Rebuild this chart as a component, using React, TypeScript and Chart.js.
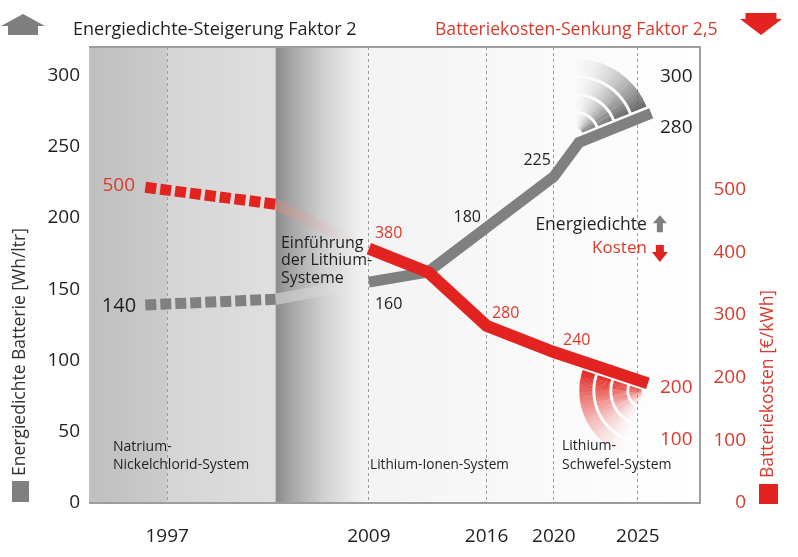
import React, { useEffect, useRef } from 'react';
import { Chart, registerables } from 'chart.js';

Chart.register(...registerables);

const FONT = '"Open Sans", "Noto Sans", "DejaVu Sans", sans-serif';
const DARK = '#1f1f1f';
const RED_TEXT = '#d83b2c';
const RED_LINE = '#e3231f';
const GRAY_LINE = '#808080';

// ---- axes ----
const yearTicks = [1997, 2009, 2016, 2020, 2025];
const energyTicks = [0, 50, 100, 150, 200, 250, 300];
const costTicks = [0, 100, 200, 300, 400, 500];
const yearRange = [1992.35, 2028.7];
const energyRange = [0, 320];
const costRange = [0, 728];

// ---- Natrium-Nickelchlorid (dashed) ----
const natriumYears = [1995.7, 2003.45];
const natriumEnergy = [139, 143];
const natriumCost = [504, 477];

// ---- transition (faded) ----
const bridgeYears = [2003.45, 2009];
const bridgeEnergy = [143, 155];
const bridgeCost = [477, 406];

// ---- Lithium (solid) ----
const lithiumEnergyYears = [2009, 2012.5, 2020, 2021.5, 2025.8];
const lithiumEnergy = [155, 162, 229, 253, 273.5];
const lithiumCostYears = [2009, 2012.55, 2016, 2020, 2025.6];
const lithiumCost = [406, 368, 283, 241, 191];

// ---- shading boundaries (years) ----
const shadeYears = [1997, 2003.45, 2009];

// ---- value labels ----
type Lbl = { t: string; yr: number; v: number; ax: 'e' | 'c'; c: string; a: CanvasTextAlign; s: number };
const valueLabels: Lbl[] = [
  { t: '140', yr: 1995.15, v: 138.2, ax: 'e', c: DARK, a: 'right', s: 20 },
  { t: '500', yr: 1995.09, v: 506, ax: 'c', c: RED_TEXT, a: 'right', s: 19 },
  { t: '380', yr: 2009.36, v: 431, ax: 'c', c: RED_TEXT, a: 'left', s: 16 },
  { t: '160', yr: 2009.36, v: 139, ax: 'e', c: DARK, a: 'left', s: 16 },
  { t: '180', yr: 2015.67, v: 200.7, ax: 'e', c: DARK, a: 'right', s: 16 },
  { t: '225', yr: 2019.83, v: 240.7, ax: 'e', c: DARK, a: 'right', s: 16 },
  { t: '280', yr: 2016.32, v: 303.3, ax: 'c', c: RED_TEXT, a: 'left', s: 16 },
  { t: '240', yr: 2020.55, v: 260.2, ax: 'c', c: RED_TEXT, a: 'left', s: 16 },
  { t: '300', yr: 2026.32, v: 299, ax: 'e', c: DARK, a: 'left', s: 19 },
  { t: '280', yr: 2026.32, v: 263.2, ax: 'e', c: DARK, a: 'left', s: 19 },
  { t: '200', yr: 2026.32, v: 183.6, ax: 'c', c: RED_TEXT, a: 'left', s: 19 },
  { t: '100', yr: 2026.32, v: 100.6, ax: 'c', c: RED_TEXT, a: 'left', s: 19 },
];

type Note = { lines: string[]; yr: number; v: number; c: string; a: CanvasTextAlign; s: number; lh: number };
const notes: Note[] = [
  { lines: ['Einführung', 'der Lithium-', 'Systeme'], yr: 2003.77, v: 182.5, c: DARK, a: 'left', s: 16, lh: 17.5 },
  { lines: ['Natrium-', 'Nickelchlorid-System'], yr: 1993.78, v: 39.3, c: DARK, a: 'left', s: 14, lh: 18 },
  { lines: ['Lithium-Ionen-System'], yr: 2009.07, v: 26.7, c: DARK, a: 'left', s: 13.6, lh: 18 },
  { lines: ['Lithium-', 'Schwefel-System'], yr: 2020.49, v: 40, c: DARK, a: 'left', s: 14, lh: 19 },
];
const trendNotes = [
  { t: 'Energiedichte', yr: 2025.54, v: 195, c: DARK, up: true, arrow: '#7f7f7f', s: 17.5 },
  { t: 'Kosten', yr: 2025.54, v: 179, c: RED_TEXT, up: false, arrow: RED_LINE, s: 17 },
];

const titleLeft = 'Energiedichte-Steigerung Faktor 2';
const titleRight = 'Batteriekosten-Senkung Faktor 2,5';
const axisLeft = 'Energiedichte Batterie [Wh/ltr]';
const axisRight = 'Batteriekosten [€/kWh]';

const pts = (xs: number[], ys: number[]) => xs.map((x, i) => ({ x, y: ys[i] }));

function arrow(ctx: CanvasRenderingContext2D, cx: number, top: number, w: number, h: number, stemW: number, headH: number, up: boolean, color: string) {
  ctx.fillStyle = color;
  ctx.beginPath();
  if (up) {
    ctx.moveTo(cx, top);
    ctx.lineTo(cx + w / 2, top + headH);
    ctx.lineTo(cx + stemW / 2, top + headH);
    ctx.lineTo(cx + stemW / 2, top + h);
    ctx.lineTo(cx - stemW / 2, top + h);
    ctx.lineTo(cx - stemW / 2, top + headH);
    ctx.lineTo(cx - w / 2, top + headH);
  } else {
    ctx.moveTo(cx - stemW / 2, top);
    ctx.lineTo(cx + stemW / 2, top);
    ctx.lineTo(cx + stemW / 2, top + h - headH);
    ctx.lineTo(cx + w / 2, top + h - headH);
    ctx.lineTo(cx, top + h);
    ctx.lineTo(cx - w / 2, top + h - headH);
    ctx.lineTo(cx - stemW / 2, top + h - headH);
  }
  ctx.closePath();
  ctx.fill();
}

// fan of fading arc bands that hugs one side of a line segment
function drawFan(ctx: CanvasRenderingContext2D, anchor: { x: number; y: number }, other: { x: number; y: number }, spanDeg: number, radii: number[][], rgb: string, offset: number, power: number) {
  const theta = Math.atan2(other.y - anchor.y, other.x - anchor.x);
  const span = (spanDeg * Math.PI) / 180;
  const n = theta - Math.PI / 2;
  const cx = anchor.x + Math.cos(n) * offset;
  const cy = anchor.y + Math.sin(n) * offset;
  const N = 60;
  ctx.save();
  for (const [r0, r1] of radii) {
    for (let k = 0; k < N; k++) {
      const aHi = theta - (k / N) * span;
      const aLo = theta - ((k + 1) / N) * span - 0.004;
      const alpha = Math.pow(1 - (k + 0.5) / N, power);
      ctx.fillStyle = `rgba(${rgb},${alpha.toFixed(3)})`;
      ctx.beginPath();
      ctx.arc(cx, cy, r1, aLo, aHi);
      ctx.arc(cx, cy, r0, aHi, aLo, true);
      ctx.closePath();
      ctx.fill();
    }
  }
  ctx.restore();
}

const decor = {
  id: 'decor',
  beforeDraw(chart: any) {
    const { ctx, chartArea: a, scales } = chart;
    const x = (v: number) => scales.x.getPixelForValue(v);
    ctx.save();
    ctx.fillStyle = '#ffffff';
    ctx.fillRect(0, 0, chart.width, chart.height);
    const x1 = x(shadeYears[0]);
    const x2 = x(shadeYears[1]);
    const x3 = x(shadeYears[2]);
    const h = a.bottom - a.top;
    let g = ctx.createLinearGradient(a.left, 0, x1, 0);
    g.addColorStop(0, '#bfbfbf');
    g.addColorStop(1, '#cbcbcb');
    ctx.fillStyle = g;
    ctx.fillRect(a.left, a.top, x1 - a.left, h);
    g = ctx.createLinearGradient(x1, 0, x2, 0);
    g.addColorStop(0, '#d5d5d5');
    g.addColorStop(1, '#dfdfdf');
    ctx.fillStyle = g;
    ctx.fillRect(x1, a.top, x2 - x1, h);
    g = ctx.createLinearGradient(x2, 0, x3, 0);
    g.addColorStop(0, '#8a8a8a');
    g.addColorStop(0.15, '#a3a3a3');
    g.addColorStop(0.5, '#cfcfcf');
    g.addColorStop(0.85, '#ececec');
    g.addColorStop(1, '#f5f5f5');
    ctx.fillStyle = g;
    ctx.fillRect(x2, a.top, x3 - x2, h);
    g = ctx.createLinearGradient(x3, 0, a.right, 0);
    g.addColorStop(0, '#f3f3f3');
    g.addColorStop(1, '#ffffff');
    ctx.fillStyle = g;
    ctx.fillRect(x3, a.top, a.right - x3, h);
    ctx.strokeStyle = 'rgba(150,150,150,0.8)';
    ctx.lineWidth = 1;
    ctx.setLineDash([2, 2]);
    ctx.beginPath();
    ctx.moveTo(Math.round(x2) + 0.5, a.top);
    ctx.lineTo(Math.round(x2) + 0.5, a.bottom);
    ctx.stroke();
    ctx.restore();
  },
  beforeDatasetsDraw(chart: any) {
    const { ctx, chartArea: a, scales } = chart;
    const x = (v: number) => scales.x.getPixelForValue(v);
    const ye = (v: number) => scales.y.getPixelForValue(v);
    const yc = (v: number) => scales.y2.getPixelForValue(v);
    ctx.save();
    const eA = { x: x(lithiumEnergyYears[3]), y: ye(lithiumEnergy[3]) };
    const eB = { x: x(lithiumEnergyYears[4]), y: ye(lithiumEnergy[4]) };
    drawFan(ctx, eA, eB, 80, [[7, 21], [24, 39], [42, 57], [60, 76]], '100,100,100', 8, 2.4);
    const cA = { x: x(lithiumCostYears[4]), y: yc(lithiumCost[4]) };
    const cB = { x: x(lithiumCostYears[3]), y: yc(lithiumCost[3]) };
    drawFan(ctx, cA, cB, 95, [[4, 16], [19, 33], [36, 50], [53, 66]], '228,35,28', 8, 1.9);
    ctx.strokeStyle = '#9d9d9d';
    ctx.lineWidth = 2;
    ctx.setLineDash([]);
    ctx.beginPath();
    ctx.moveTo(a.left, a.top);
    ctx.lineTo(a.right, a.top);
    ctx.lineTo(a.right, a.bottom);
    ctx.lineTo(a.left, a.bottom);
    ctx.stroke();
    ctx.restore();
  },
  afterDraw(chart: any) {
    const { ctx, scales, chartArea: a } = chart;
    const x = (v: number) => scales.x.getPixelForValue(v);
    const yv = (ax: string, v: number) => (ax === 'e' ? scales.y : scales.y2).getPixelForValue(v);
    ctx.save();
    ctx.textBaseline = 'middle';
    ctx.font = `19px ${FONT}`;
    ctx.fillStyle = RED_TEXT;
    ctx.textAlign = 'right';
    for (const v of costTicks) ctx.fillText(String(v), a.right + 46, yv('c', v));
    for (const l of valueLabels) {
      ctx.font = `${l.s}px ${FONT}`;
      ctx.fillStyle = l.c;
      ctx.textAlign = l.a;
      ctx.fillText(l.t, x(l.yr), yv(l.ax, l.v));
    }
    for (const n of notes) {
      ctx.font = `${n.s}px ${FONT}`;
      ctx.fillStyle = n.c;
      ctx.textAlign = n.a;
      n.lines.forEach((t, i) => ctx.fillText(t, x(n.yr), yv('e', n.v) + i * n.lh));
    }
    for (const t of trendNotes) {
      ctx.font = `${t.s}px ${FONT}`;
      ctx.fillStyle = t.c;
      ctx.textAlign = 'right';
      const px = x(t.yr);
      const py = yv('e', t.v);
      ctx.fillText(t.t, px, py);
      if (t.up) arrow(ctx, px + 13, py - 10, 14, 17, 6, 8, true, t.arrow);
      else arrow(ctx, px + 13, py - 3, 16, 17, 8, 10, false, t.arrow);
    }
    ctx.textBaseline = 'alphabetic';
    ctx.textAlign = 'left';
    ctx.font = `18px ${FONT}`;
    ctx.fillStyle = DARK;
    ctx.fillText(titleLeft, 73, 35);
    ctx.font = `17.6px ${FONT}`;
    ctx.fillStyle = RED_TEXT;
    ctx.fillText(titleRight, 435, 35);
    arrow(ctx, 23, 14, 44, 21, 30, 12, true, '#7f7f7f');
    arrow(ctx, 761, 13, 42, 22, 31, 16, false, RED_LINE);
    ctx.font = `17.5px ${FONT}`;
    ctx.textBaseline = 'middle';
    ctx.save();
    ctx.translate(20, 476);
    ctx.rotate(-Math.PI / 2);
    ctx.fillStyle = '#333333';
    ctx.fillText(axisLeft, 0, 0);
    ctx.restore();
    ctx.fillStyle = '#808080';
    ctx.fillRect(12, 481, 17, 21);
    ctx.save();
    ctx.translate(768, 478);
    ctx.rotate(-Math.PI / 2);
    ctx.fillStyle = RED_TEXT;
    ctx.fillText(axisRight, 0, 0);
    ctx.restore();
    ctx.fillStyle = RED_LINE;
    ctx.fillRect(759, 484, 19, 20);
    ctx.restore();
  },
};

export default function App() {
  const ref = useRef<HTMLCanvasElement>(null);
  useEffect(() => {
    document.body.style.margin = '0';
    const canvas = ref.current!;
    const fadeGray = (c: any) => {
      const ch = c.chart;
      if (!ch.chartArea) return 'rgba(220,220,220,0.4)';
      const g = ch.ctx.createLinearGradient(ch.scales.x.getPixelForValue(bridgeYears[0]), 0, ch.scales.x.getPixelForValue(bridgeYears[1]), 0);
      g.addColorStop(0, 'rgba(215,215,215,0.65)');
      g.addColorStop(1, 'rgba(235,235,235,0)');
      return g;
    };
    const fadeRed = (c: any) => {
      const ch = c.chart;
      if (!ch.chartArea) return 'rgba(230,150,140,0.3)';
      const g = ch.ctx.createLinearGradient(ch.scales.x.getPixelForValue(bridgeYears[0]), 0, ch.scales.x.getPixelForValue(bridgeYears[1]), 0);
      g.addColorStop(0, 'rgba(215,140,130,0.45)');
      g.addColorStop(1, 'rgba(240,200,200,0)');
      return g;
    };
    const common = { pointRadius: 0, tension: 0, borderCapStyle: 'butt', borderJoinStyle: 'miter', fill: false };
    const chart = new Chart(canvas, {
      type: 'line',
      data: {
        datasets: [
          { ...common, label: 'Kosten Lithium', data: pts(lithiumCostYears, lithiumCost), yAxisID: 'y2', borderColor: RED_LINE, borderWidth: 12 },
          { ...common, label: 'Energie Lithium', data: pts(lithiumEnergyYears, lithiumEnergy), yAxisID: 'y', borderColor: GRAY_LINE, borderWidth: 11 },
          { ...common, label: 'Kosten Natrium', data: pts(natriumYears, natriumCost), yAxisID: 'y2', borderColor: RED_LINE, borderWidth: 11, borderDash: [11, 4] },
          { ...common, label: 'Energie Natrium', data: pts(natriumYears, natriumEnergy), yAxisID: 'y', borderColor: GRAY_LINE, borderWidth: 11, borderDash: [11, 4] },
          { ...common, label: 'Kosten Übergang', data: pts(bridgeYears, bridgeCost), yAxisID: 'y2', borderColor: fadeRed, borderWidth: 11 },
          { ...common, label: 'Energie Übergang', data: pts(bridgeYears, bridgeEnergy), yAxisID: 'y', borderColor: fadeGray, borderWidth: 11 },
        ] as any,
      },
      options: {
        responsive: false,
        animation: false,
        devicePixelRatio: 1,
        layout: { padding: { top: 47, left: 0, right: 0, bottom: 0 } },
        plugins: { legend: { display: false }, tooltip: { enabled: false }, title: { display: false } },
        scales: {
          x: {
            type: 'linear',
            min: yearRange[0],
            max: yearRange[1],
            afterBuildTicks: (s: any) => { s.ticks = yearTicks.map((v) => ({ value: v })); },
            afterFit: (s: any) => { s.height = 54; },
            grid: { color: '#9a9a9a', lineWidth: 1, drawTicks: false },
            border: { display: false, dash: [3, 3] },
            ticks: { color: DARK, font: { family: FONT, size: 19 }, padding: 22, autoSkip: false, maxRotation: 0, callback: (v: any) => String(v) },
          },
          y: {
            type: 'linear',
            position: 'left',
            min: energyRange[0],
            max: energyRange[1],
            afterBuildTicks: (s: any) => { s.ticks = energyTicks.map((v) => ({ value: v })); },
            afterFit: (s: any) => { s.width = 89; },
            grid: { display: false, drawTicks: false },
            border: { display: false },
            ticks: { color: DARK, font: { family: FONT, size: 19 }, padding: 9, callback: (v: any) => String(v) },
          },
          y2: {
            type: 'linear',
            position: 'right',
            min: costRange[0],
            max: costRange[1],
            afterBuildTicks: (s: any) => { s.ticks = costTicks.map((v) => ({ value: v })); },
            afterFit: (s: any) => { s.width = 98; },
            grid: { display: false, drawTicks: false },
            border: { display: false },
            ticks: { display: false },
          },
        },
      } as any,
      plugins: [decor],
    });
    return () => chart.destroy();
  }, []);
  return (
    <div style={{ position: 'fixed', left: 0, top: 0, width: 798, height: 557 }}>
      <canvas ref={ref} width={798} height={557} style={{ display: 'block', width: 798, height: 557 }} />
    </div>
  );
}
